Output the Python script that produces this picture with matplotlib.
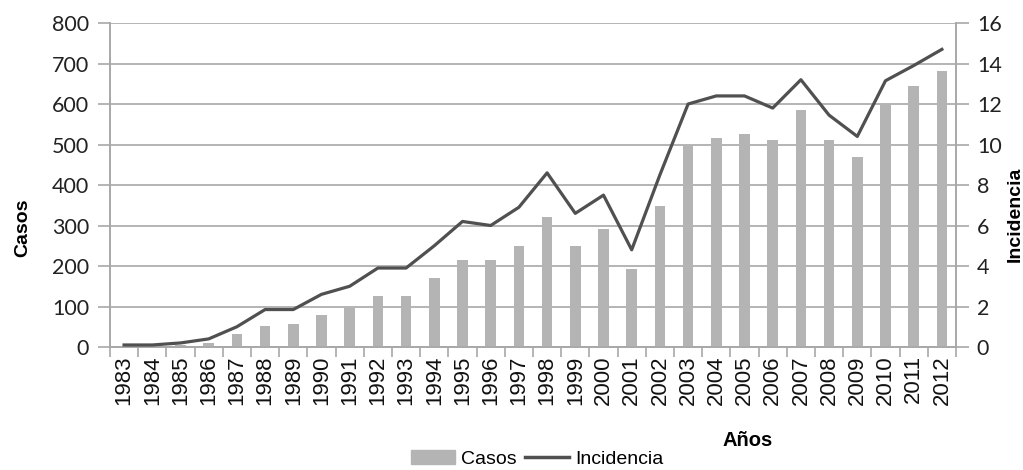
import matplotlib.pyplot as plt
from matplotlib.lines import Line2D
from matplotlib.patches import Patch
import numpy as np

years = list(range(1983, 2013))
casos = [3, 3, 5, 10, 32, 52, 57, 78, 98, 126, 126, 170, 216, 214, 250,
         322, 250, 292, 192, 348, 499, 515, 527, 511, 586, 511, 468, 601, 644, 682]
incidencia = [0.1, 0.1, 0.2, 0.4, 1.0, 1.85, 1.85, 2.6, 3.0, 3.9, 3.9, 5.0, 6.2, 6.0, 6.9,
              8.6, 6.6, 7.5, 4.8, 8.5, 12.0, 12.4, 12.4, 11.8, 13.2, 11.45, 10.4, 13.15, 13.9, 14.7]

bar_color = '#b4b4b4'
line_color = '#505050'
grid_color = '#a8a8a8'
tick_font = 'Lato'
label_font = 'Liberation Sans'

fig = plt.figure(figsize=(10.23, 4.70), dpi=100)
ax = fig.add_axes([0.1075, 0.2617, 0.827, 0.6893])
ax2 = ax.twinx()

x = np.arange(len(years))
ax.bar(x, casos, width=0.38, color=bar_color, zorder=3)
ax2.plot(x, incidencia, color=line_color, lw=2.3, zorder=4)

ax.set_xlim(-0.5, len(years) - 0.5)
ax.set_ylim(0, 800)
ax2.set_ylim(0, 16)
ax.set_yticks(range(0, 801, 100))
ax2.set_yticks(range(0, 17, 2))

ax.grid(axis='y', color=grid_color, lw=1.2, zorder=0)
ax.set_axisbelow(True)

for a in (ax, ax2):
    a.spines['top'].set_visible(False)
    for s in ('left', 'right', 'bottom'):
        a.spines[s].set_color(grid_color)
        a.spines[s].set_linewidth(1.2)

ax.set_xticks(x)
ax.set_xticklabels([str(y) for y in years], rotation=90, fontsize=16,
                   family=label_font, color='#111111')
ax.set_xticks(np.arange(-0.5, len(years), 1), minor=True)
ax.tick_params(axis='x', which='major', length=0, pad=6)
ax.tick_params(axis='x', which='minor', length=7, color=grid_color, width=1.2)

ax.tick_params(axis='y', length=9, color=grid_color, width=1.2, pad=6)
ax2.tick_params(axis='y', length=9, color=grid_color, width=1.2, pad=6)
for lab in ax.get_yticklabels() + ax2.get_yticklabels():
    lab.set_fontsize(15.5)
    lab.set_family(tick_font)
    lab.set_color('#222222')

fig.text(0.022, 0.515, 'Casos', rotation=90, ha='center', va='center',
         fontsize=14, fontweight='bold', family=label_font)
fig.text(0.992, 0.543, 'Incidencia', rotation=90, ha='center', va='center',
         fontsize=14, fontweight='bold', family=label_font)
fig.text(0.731, 0.063, 'Años', ha='center', va='center',
         fontsize=14.5, fontweight='bold', family=label_font)

handles = [Patch(color=bar_color), Line2D([0], [0], color=line_color, lw=2.5)]
fig.legend(handles, ['Casos', 'Incidencia'], loc='center', bbox_to_anchor=(0.525, 0.024),
           ncol=2, frameon=False, handlelength=2.3, handletextpad=0.3, columnspacing=0.4,
           prop={'family': label_font, 'size': 14})

fig.savefig('out.png', dpi=100)
